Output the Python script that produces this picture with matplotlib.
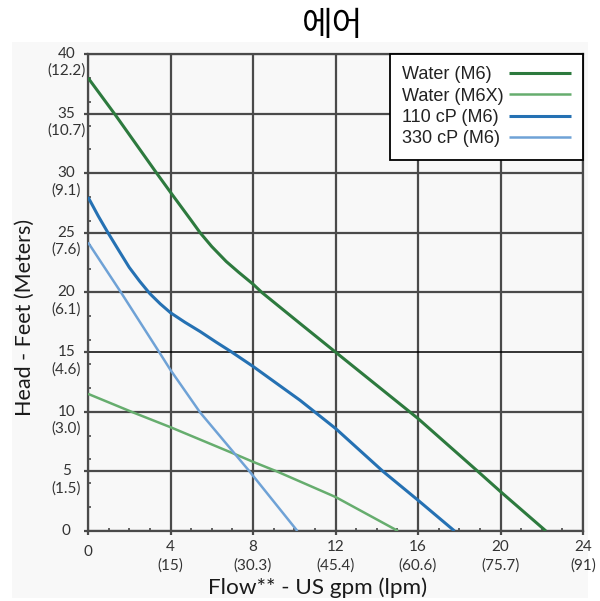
import matplotlib
matplotlib.use("Agg")
import matplotlib.pyplot as plt
import matplotlib.transforms as mtransforms
from matplotlib.patches import Rectangle
from matplotlib.ticker import MultipleLocator

# curves (flow gpm, head ft)
water_m6_x = [0, 1.32, 3.33, 4, 5.0, 5.44, 6.0, 6.7, 7.3, 8, 8.43, 10.28, 12, 16, 18.9, 20, 22.2]
water_m6_y = [38.0, 34.9, 30, 28.4, 26.05, 25, 23.85, 22.6, 21.7, 20.7, 20, 17.4, 15, 9.43, 5, 3.3, 0]

water_m6x_x = [0, 2.1, 4, 7.05, 8, 9.15, 12, 15.03]
water_m6x_y = [11.5, 10, 8.7, 6.5, 5.8, 5, 2.85, 0]

cp110_x = [0, 0.5, 0.97, 1.5, 2.0, 2.5, 3.0, 3.5, 4, 4.7, 5.44, 6.2, 6.97, 8, 10.28, 12, 14.3, 16, 17.77]
cp110_y = [28.0, 26.4, 25, 23.5, 22.1, 20.95, 19.9, 19.05, 18.3, 17.5, 16.72, 15.85, 15, 13.8,
           10.96, 8.6, 5, 2.58, 0]

cp330_x = [0, 1.6, 3.45, 4, 5.43, 7.83, 10.15]
cp330_y = [24.2, 20, 15, 13.5, 9.95, 5, 0]

labels = ["Water (M6)", "Water (M6X)", "110 cP (M6)", "330 cP (M6)"]
colors = ["#2d7a3e", "#66ad6e", "#2571b3", "#6fa2d6"]
widths = [2.2, 1.8, 2.2, 1.8]

# tick labels
x_ticks = [0, 4, 8, 12, 16, 20, 24]
x_lpm = ["", "(15)", "(30.3)", "(45.4)", "(60.6)", "(75.7)", "(91)"]
y_ticks = [0, 5, 10, 15, 20, 25, 30, 35, 40]
y_m = ["", "(1.5)", "(3.0)", "(4.6)", "(6.1)", "(7.6)", "(9.1)", "(10.7)", "(12.2)"]

fig = plt.figure(figsize=(6, 6.01), dpi=100)
bg = Rectangle((0.02, 0.005), 0.96, 0.925, transform=fig.transFigure,
               facecolor="#f8f8f8", edgecolor="none", zorder=-10)
fig.add_artist(bg)

ax = fig.add_axes([0.1467, 0.1165, 0.825, 0.7937])
ax.set_facecolor("#f8f8f8")
ax.set_xlim(0, 24)
ax.set_ylim(0, 40)

grid_c = "#4a4a4a"
for x in x_ticks:
    ax.axvline(x, color=grid_c, lw=1.6, zorder=1)
for y in y_ticks:
    if y == 15:
        ax.axhline(y, color="black", lw=1.1, zorder=1)
    else:
        ax.axhline(y, color=grid_c, lw=1.6, zorder=1)
for s in ax.spines.values():
    s.set_color(grid_c)
    s.set_linewidth(1.6)

ax.set_xticks(x_ticks)
ax.set_yticks(y_ticks)
ax.xaxis.set_minor_locator(MultipleLocator(1))
ax.yaxis.set_minor_locator(MultipleLocator(2))
ax.tick_params(which="major", direction="out", length=3, width=1.6, color=grid_c,
               labelbottom=False, labelleft=False)
ax.tick_params(which="minor", direction="in", length=2.5, width=1.2, color=grid_c)

series = [(water_m6_x, water_m6_y), (water_m6x_x, water_m6x_y),
          (cp110_x, cp110_y), (cp330_x, cp330_y)]
for (xs, ys), lab, c, w in zip(series, labels, colors, widths):
    ax.plot(xs, ys, color=c, lw=w, label=lab, zorder=3, solid_capstyle="butt",
            solid_joinstyle="round")

tick_font = dict(family="Lato", fontsize=11, color="#333333", ha="center", va="center",
                 clip_on=False)
down = lambda px: mtransforms.ScaledTranslation(0, -px / 100, fig.dpi_scale_trans)
ytr = ax.get_yaxis_transform()
for y, m in zip(y_ticks, y_m):
    ax.text(-0.044, y, str(y), transform=ytr, **tick_font)
    ax.text(-0.044, y, m, transform=ytr + down(17), **tick_font)
xtr = ax.get_xaxis_transform()
for x, m in zip(x_ticks, x_lpm):
    ax.text(x, 0, str(x), transform=xtr + down(16 if x else 21), **tick_font)
    ax.text(x, 0, m, transform=xtr + down(35), **tick_font)

fig.text(0.042, 0.471, "Head - Feet (Meters)", rotation=90, family="Lato", fontsize=15.5,
         color="#1a1a1a", ha="center", va="center")
fig.text(0.529, 0.022, "Flow** - US gpm (lpm)", family="Lato", fontsize=16.2,
         color="#1a1a1a", ha="center", va="center")
fig.text(0.555, 0.957, "에어", family=["Noto Sans CJK KR", "DejaVu Sans"], fontsize=24,
         color="black", ha="center", va="center")

leg = ax.legend(loc="upper right", bbox_to_anchor=(1, 1), borderaxespad=0,
                markerfirst=False, handlelength=3.4, handletextpad=0.3,
                borderpad=0.68, labelspacing=0.24, fancybox=False, framealpha=1,
                prop={"family": "Liberation Sans", "size": 13})
leg.get_frame().set_edgecolor("black")
leg.get_frame().set_linewidth(1.3)
for t in leg.get_texts():
    t.set_color("#222222")
leg.set_zorder(5)

# left-align legend texts while keeping line samples on the right
fig.canvas.draw()
r = fig.canvas.get_renderer()
col = leg._legend_handle_box.get_children()[0]
items = col.get_children()
w = max(it.get_bbox(r).width for it in items)
for it in items:
    it.mode = "expand"
    it.set_width(w)

fig.savefig("out.png", dpi=100)
